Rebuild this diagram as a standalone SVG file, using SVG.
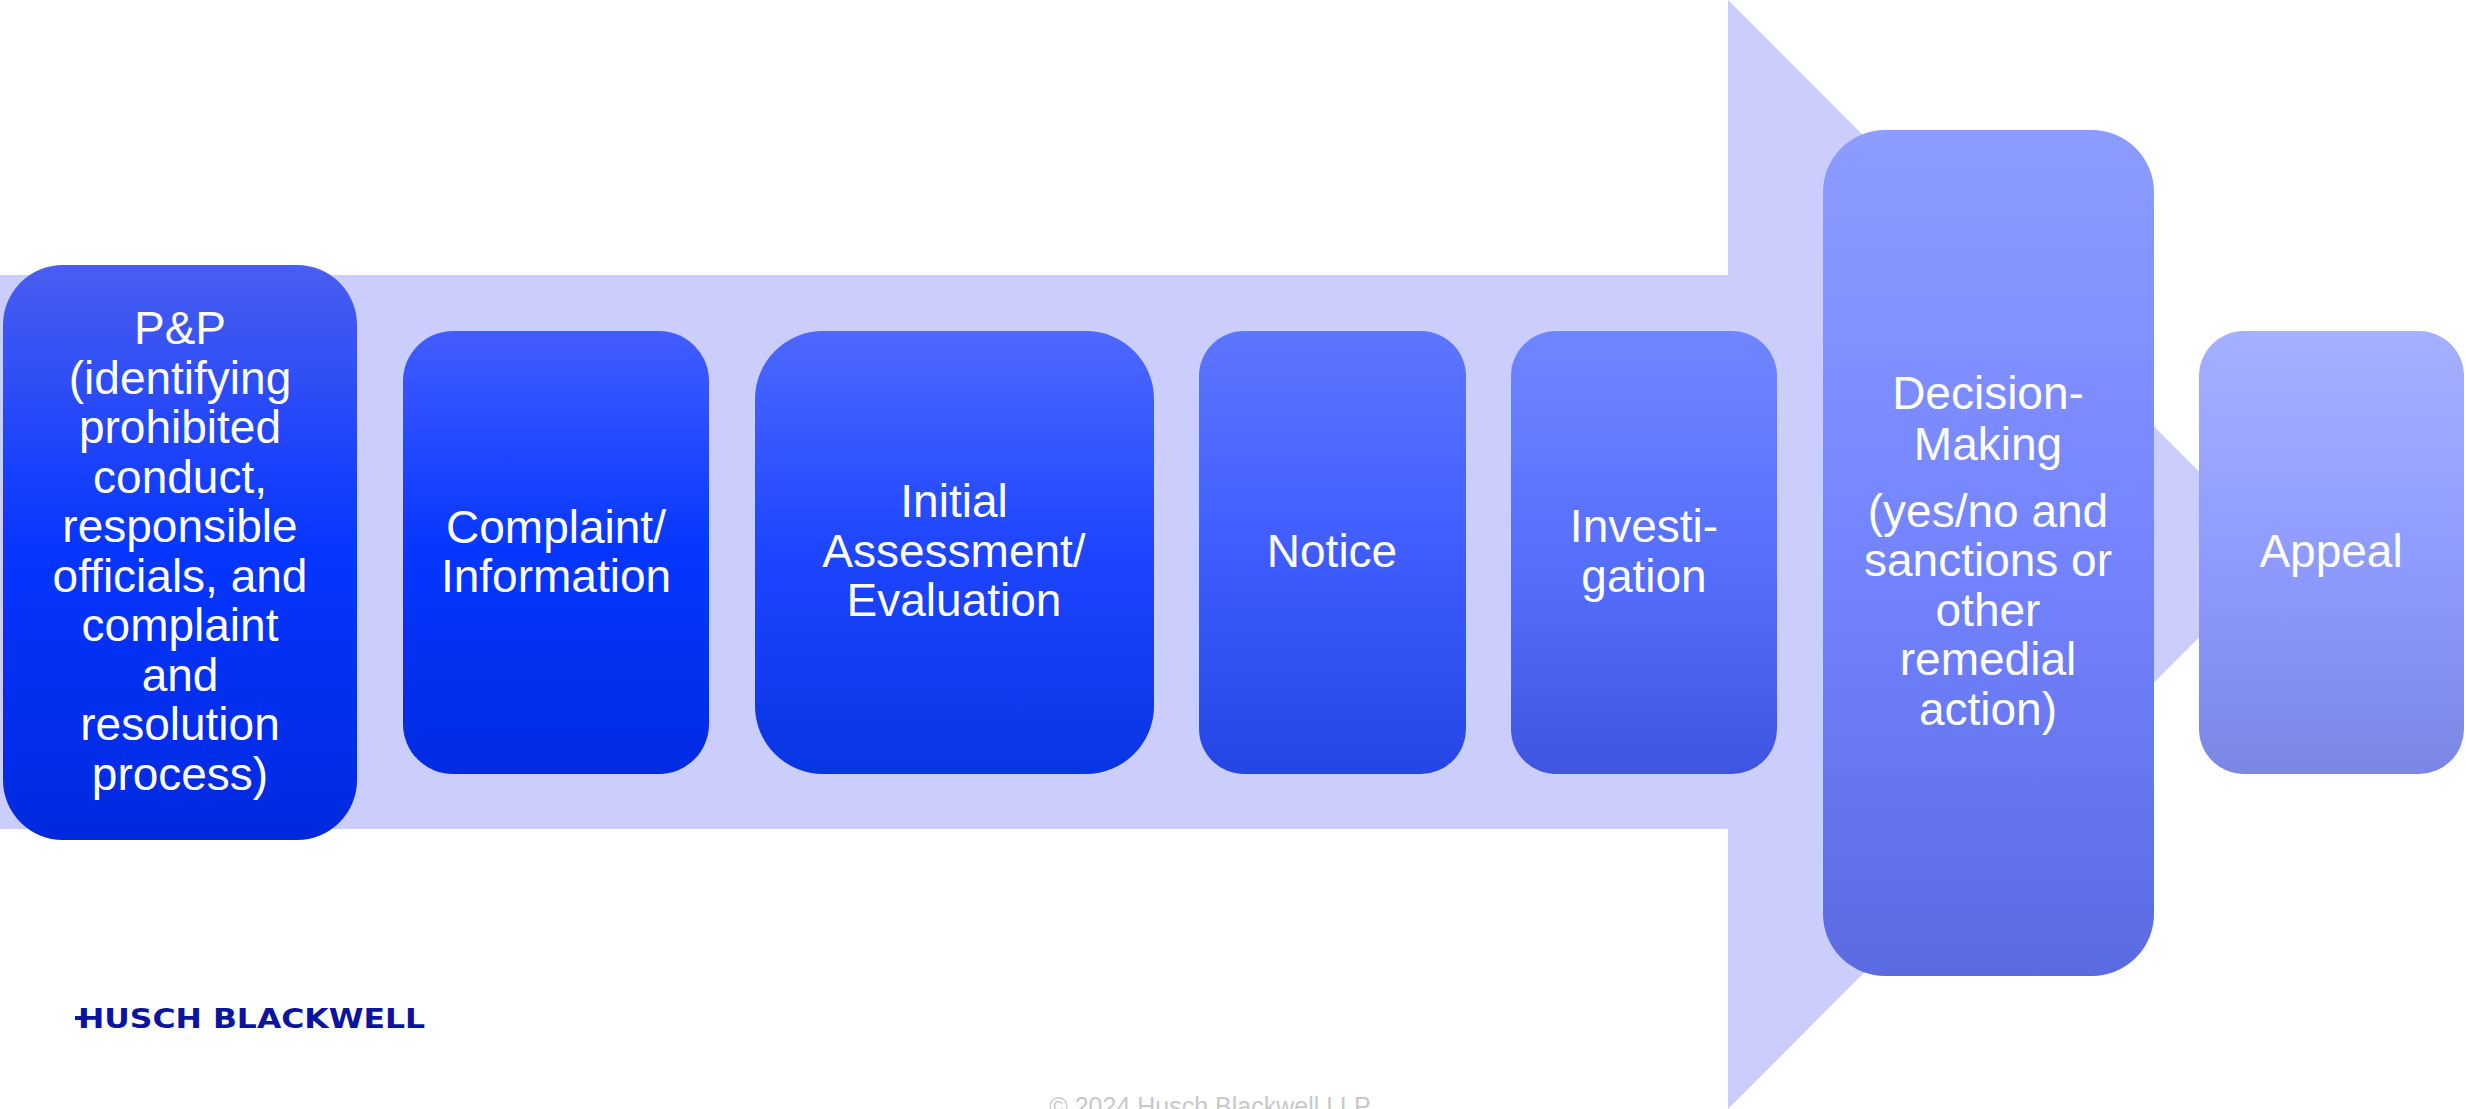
<svg xmlns="http://www.w3.org/2000/svg" width="2466" height="1109" viewBox="0 0 2466 1109">
<defs>
<linearGradient id="g1" x1="0" y1="0" x2="0" y2="1"><stop offset="0" stop-color="#4A5EF0"/><stop offset="0.5" stop-color="#0535FF"/><stop offset="1" stop-color="#0029DE"/></linearGradient>
<linearGradient id="g2" x1="0" y1="0" x2="0" y2="1"><stop offset="0" stop-color="#435CFF"/><stop offset="0.5" stop-color="#0436FF"/><stop offset="1" stop-color="#002BE2"/></linearGradient>
<linearGradient id="g3" x1="0" y1="0" x2="0" y2="1"><stop offset="0" stop-color="#4E68FF"/><stop offset="0.5" stop-color="#1D45FF"/><stop offset="1" stop-color="#0835E4"/></linearGradient>
<linearGradient id="g4" x1="0" y1="0" x2="0" y2="1"><stop offset="0" stop-color="#5D76FF"/><stop offset="0.5" stop-color="#3F5CFF"/><stop offset="1" stop-color="#2446E4"/></linearGradient>
<linearGradient id="g5" x1="0" y1="0" x2="0" y2="1"><stop offset="0" stop-color="#7085FF"/><stop offset="0.5" stop-color="#5670FF"/><stop offset="1" stop-color="#3F55E0"/></linearGradient>
<linearGradient id="g6" x1="0" y1="0" x2="0" y2="1"><stop offset="0" stop-color="#8C9CFF"/><stop offset="0.5" stop-color="#7484FF"/><stop offset="1" stop-color="#5A6BE2"/></linearGradient>
<linearGradient id="g7" x1="0" y1="0" x2="0" y2="1"><stop offset="0" stop-color="#A6B0FF"/><stop offset="0.5" stop-color="#8F9CFF"/><stop offset="1" stop-color="#7B86E4"/></linearGradient>
</defs>
<style>
.t{font-family:"Liberation Sans",Arial,sans-serif;font-size:46px;fill:#FFFFFF;text-anchor:middle;}
.logo{font-family:"DejaVu Sans",sans-serif;font-weight:bold;font-size:26px;fill:#0A14A0;}
.copy{font-family:"Liberation Sans",Arial,sans-serif;font-size:25px;fill:#C8C8C8;text-anchor:middle;}
</style>
<rect width="2466" height="1109" fill="#FFFFFF"/>
<g id="connectors">
<polygon points="0,275 1728,275 1728,0 2282,554.5 1728,1109 1728,829 0,829" fill="#CBCEFD"/>
</g>
<g id="node-pp">
<rect x="3" y="265" width="354" height="575" rx="60" ry="60" fill="url(#g1)"/>
<text class="t"><tspan x="180" y="344">P&amp;P</tspan><tspan x="180" y="394">(identifying</tspan><tspan x="180" y="443">prohibited</tspan><tspan x="180" y="493">conduct,</tspan><tspan x="180" y="542">responsible</tspan><tspan x="180" y="592">officials, and</tspan><tspan x="180" y="641">complaint</tspan><tspan x="180" y="691">and</tspan><tspan x="180" y="740">resolution</tspan><tspan x="180" y="790">process)</tspan></text>
</g>
<g id="node-complaint">
<rect x="403" y="331" width="306" height="443" rx="50" ry="50" fill="url(#g2)"/>
<text class="t"><tspan x="556" y="543">Complaint/</tspan><tspan x="556" y="592">Information</tspan></text>
</g>
<g id="node-assessment">
<rect x="755" y="331" width="399" height="443" rx="68" ry="68" fill="url(#g3)"/>
<text class="t"><tspan x="954" y="517">Initial</tspan><tspan x="954" y="567">Assessment/</tspan><tspan x="954" y="616">Evaluation</tspan></text>
</g>
<g id="node-notice">
<rect x="1199" y="331" width="267" height="443" rx="45" ry="45" fill="url(#g4)"/>
<text class="t"><tspan x="1332" y="567">Notice</tspan></text>
</g>
<g id="node-investigation">
<rect x="1511" y="331" width="266" height="443" rx="45" ry="45" fill="url(#g5)"/>
<text class="t"><tspan x="1644" y="542">Investi-</tspan><tspan x="1644" y="592">gation</tspan></text>
</g>
<g id="node-decision">
<rect x="1823" y="130" width="331" height="846" rx="62" ry="62" fill="url(#g6)"/>
<text class="t"><tspan x="1988" y="409">Decision-</tspan><tspan x="1988" y="460">Making</tspan><tspan x="1988" y="527">(yes/no and</tspan><tspan x="1988" y="576">sanctions or</tspan><tspan x="1988" y="626">other</tspan><tspan x="1988" y="675">remedial</tspan><tspan x="1988" y="725">action)</tspan></text>
</g>
<g id="node-appeal">
<rect x="2199" y="331" width="265" height="443" rx="45" ry="45" fill="url(#g7)"/>
<text class="t"><tspan x="2331" y="567">Appeal</tspan></text>
</g>
<g id="logo">
<rect x="75" y="1016" width="8" height="4" fill="#0A14A0"/>
<text class="logo" x="78" y="1028" textLength="347" lengthAdjust="spacingAndGlyphs">HUSCH BLACKWELL</text>
</g>
<text class="copy" x="1210" y="1115">© 2024 Husch Blackwell LLP</text>
</svg>
